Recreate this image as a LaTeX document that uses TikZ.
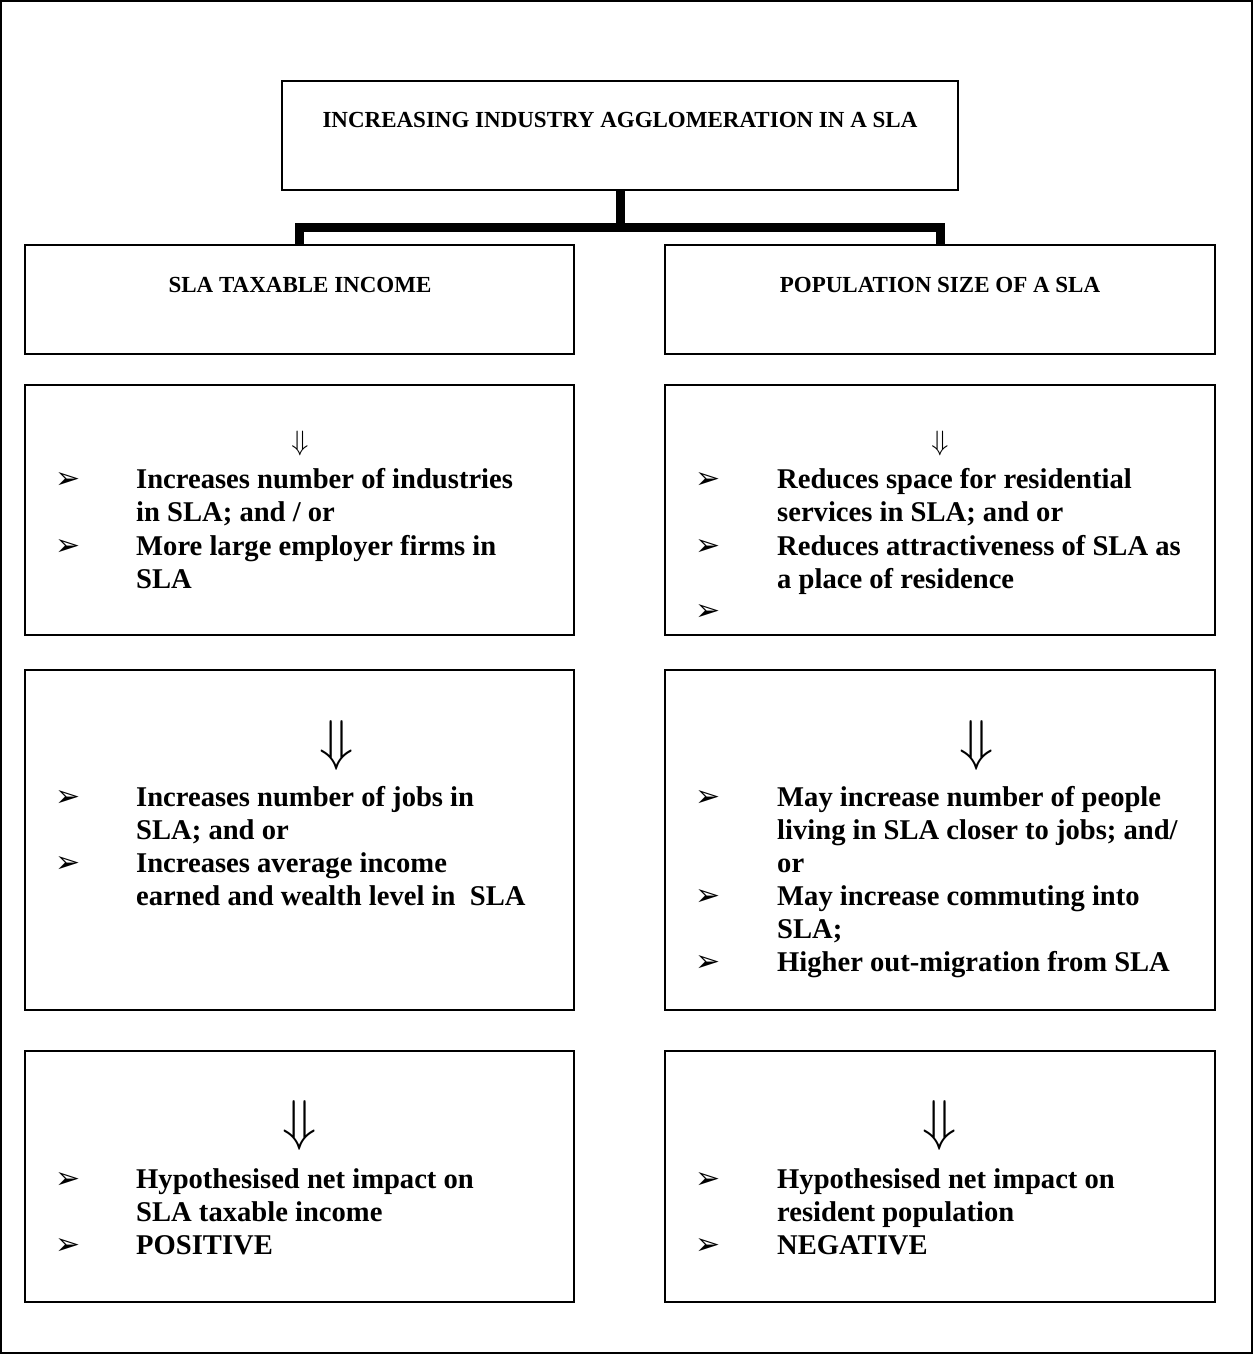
\documentclass[tikz,border=0pt]{standalone}
\usepackage{fontspec}
\setmainfont{Liberation Serif}
\newfontfamily\dejavu{DejaVu Sans}
\usepackage{graphicx}
\begin{document}
\begin{tikzpicture}[x=1pt,y=-1pt,
  box/.style={draw, line width=2.5pt, inner sep=0pt, outer sep=0pt},
  head/.style={font=\fontsize{23}{26}\selectfont\bfseries, anchor=base, inner sep=0pt},
  item/.style={font=\fontsize{28.6}{33}\selectfont\bfseries, anchor=base west, inner sep=0pt},
  bul/.style={font=\dejavu\fontsize{30}{30}\selectfont, inner sep=0pt},
  arr/.style={inner sep=0pt},
  conn/.style={line width=9pt, line join=miter}]
\useasboundingbox (0,0) rectangle (1253,1354);
\draw[line width=2pt] (1,1) rectangle (1252,1353);

% boxes
\node[box, minimum width=676, minimum height=109] (top) at (620,135.5) {};
\node[box, minimum width=549, minimum height=109] (l2) at (299.5,299.5) {};
\node[box, minimum width=550, minimum height=109] (r2) at (940,299.5) {};
\node[box, minimum width=549, minimum height=250] (l3) at (299.5,510) {};
\node[box, minimum width=550, minimum height=250] (r3) at (940,510) {};
\node[box, minimum width=549, minimum height=340] (l4) at (299.5,840) {};
\node[box, minimum width=550, minimum height=340] (r4) at (940,840) {};
\node[box, minimum width=549, minimum height=251] (l5) at (299.5,1176.5) {};
\node[box, minimum width=550, minimum height=251] (r5) at (940,1176.5) {};

% connector
\coordinate (j) at (620,227.5);
\draw[conn] (top.south) -- (j);
\draw[conn] (l2.north) |- (j) -| (r2.north);

% headings
\node[head] (tt) at (620,127.5) {INCREASING INDUSTRY AGGLOMERATION IN A SLA};
\node[head] (lt) at (300,292) {SLA TAXABLE INCOME};
\node[head] (rt) at (940,292) {POPULATION SIZE OF A SLA};

% arrows
\node[arr] (la3) at (300,443) {\scalebox{2.8}{$\Downarrow$}};
\node[arr] (ra3) at (940,443) {\scalebox{2.8}{$\Downarrow$}};
\node[arr] (la4) at (337,745) {\scalebox{5.6}{$\Downarrow$}};
\node[arr] (ra4) at (977,745) {\scalebox{5.6}{$\Downarrow$}};
\node[arr] (la5) at (300,1125) {\scalebox{5.6}{$\Downarrow$}};
\node[arr] (ra5) at (940,1125) {\scalebox{5.6}{$\Downarrow$}};

% row 3 left
\node[bul] (lb31) at (68,480) {➢};
\node[bul] (lb32) at (68,547) {➢};
\node[item] (lt31) at (136,488) {Increases number of industries};
\node[item] (lt32) at (136,521) {in SLA; and / or};
\node[item] (lt33) at (136,555) {More large employer firms in};
\node[item] (lt34) at (136,588) {SLA};

% row 3 right
\node[bul] (rb31) at (708,480) {➢};
\node[bul] (rb32) at (708,547) {➢};
\node[bul] (rb33) at (708,612) {➢};
\node[item] (rt31) at (777,488) {Reduces space for residential};
\node[item] (rt32) at (777,521) {services in SLA; and or};
\node[item] (rt33) at (777,555) {Reduces attractiveness of SLA as};
\node[item] (rt34) at (777,588) {a place of residence};

% row 4 left
\node[bul] (lb41) at (68,798) {➢};
\node[bul] (lb42) at (68,864) {➢};
\node[item] (lt41) at (136,806) {Increases number of jobs in};
\node[item] (lt42) at (136,839) {SLA; and or};
\node[item] (lt43) at (136,872) {Increases average income};
\node[item] (lt44) at (136,905) {earned and wealth level in\ \ SLA};

% row 4 right
\node[bul] (rb41) at (708,798) {➢};
\node[bul] (rb42) at (708,897) {➢};
\node[bul] (rb43) at (708,963) {➢};
\node[item] (rt41) at (777,806) {May increase number of people};
\node[item] (rt42) at (777,839) {living in SLA closer to jobs; and/};
\node[item] (rt43) at (777,872) {or};
\node[item] (rt44) at (777,905) {May increase commuting into};
\node[item] (rt45) at (777,938) {SLA;};
\node[item] (rt46) at (777,971) {Higher out-migration from SLA};

% row 5 left
\node[bul] (lb51) at (68,1180) {➢};
\node[bul] (lb52) at (68,1246) {➢};
\node[item] (lt51) at (136,1188) {Hypothesised net impact on};
\node[item] (lt52) at (136,1221) {SLA taxable income};
\node[item] (lt53) at (136,1254) {POSITIVE};

% row 5 right
\node[bul] (rb51) at (708,1180) {➢};
\node[bul] (rb52) at (708,1246) {➢};
\node[item] (rt51) at (777,1188) {Hypothesised net impact on};
\node[item] (rt52) at (777,1221) {resident population};
\node[item] (rt53) at (777,1254) {NEGATIVE};
\end{tikzpicture}
\end{document}
